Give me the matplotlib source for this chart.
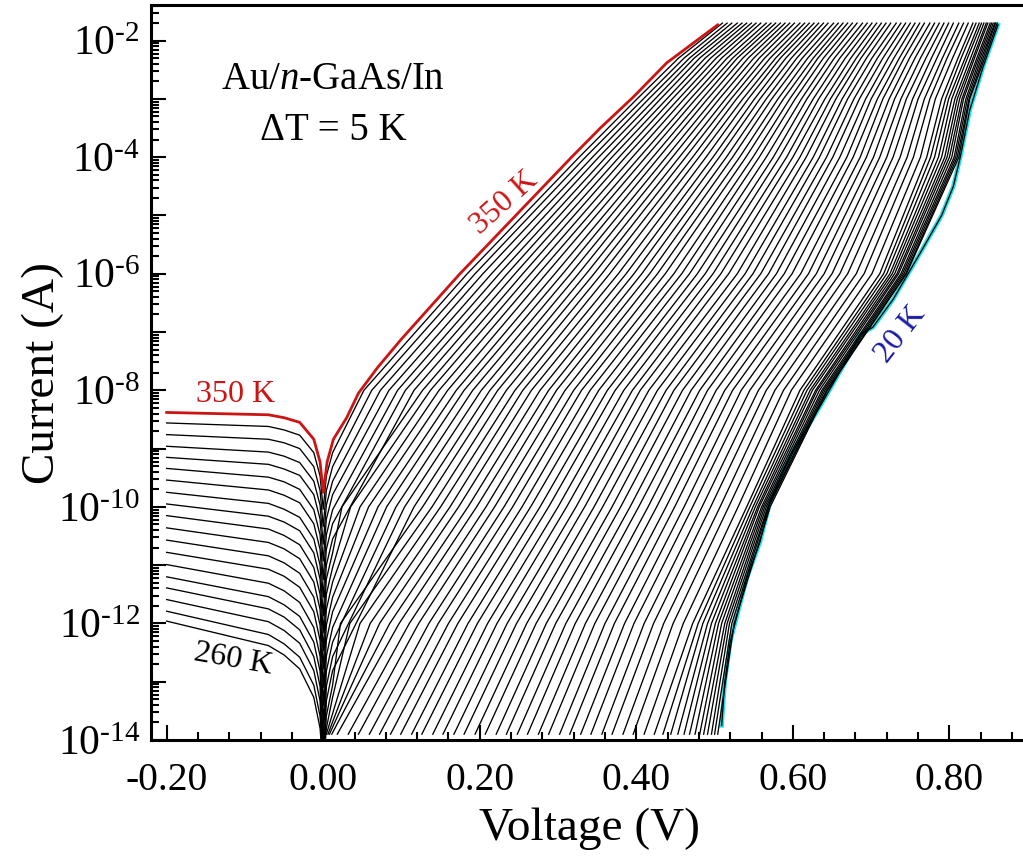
import numpy as np
import matplotlib
matplotlib.use("Agg")
import matplotlib.pyplot as plt
from matplotlib.ticker import LogLocator, FixedLocator, MultipleLocator, NullFormatter, FuncFormatter

plt.rcParams["font.family"] = ["Liberation Serif", "DejaVu Serif"]
plt.rcParams["mathtext.fontset"] = "custom"
plt.rcParams["mathtext.rm"] = "Liberation Serif"
plt.rcParams["mathtext.it"] = "Liberation Serif:italic"
plt.rcParams["axes.unicode_minus"] = False

nan = float("nan")

# temperatures of the black curves (350 K red and 20 K cyan are listed separately)
temps = list(range(345, 20, -5))

# forward branch: voltage (V) where each curve crosses log10(I) levels
levels = [-13.9, -12, -10, -8, -6, -4, -3, -2.3, -1.7]

v_start = [nan] * 18 + [
    0.004, 0.006, 0.008, 0.011, 0.018, 0.032, 0.045, 0.059, 0.072, 0.086,
    0.099, 0.113, 0.126, 0.140, 0.153, 0.167, 0.180, 0.194, 0.207, 0.221,
    0.234, 0.248, 0.261, 0.275, 0.288, 0.302, 0.315, 0.329, 0.342, 0.356,
    0.369, 0.383, 0.396, 0.410, 0.423, 0.434, 0.444, 0.453, 0.461, 0.468,
    0.475, 0.481, 0.486, 0.491, 0.496, 0.500, 0.504]
v_m12 = [nan] * 16 + [
    0.022, 0.034,
    0.047, 0.060, 0.072, 0.085, 0.097, 0.110, 0.122, 0.135, 0.147, 0.160,
    0.172, 0.185, 0.197, 0.210, 0.222, 0.235, 0.247, 0.260, 0.272, 0.285,
    0.297, 0.310, 0.322, 0.335, 0.347, 0.360, 0.372, 0.385, 0.397, 0.410,
    0.422, 0.435, 0.447, 0.460, 0.472, 0.479, 0.485, 0.491, 0.496, 0.501,
    0.505, 0.509, 0.513, 0.516, 0.519, 0.522, 0.525]
v_m10 = [nan] * 7 + [
    0.024, 0.035, 0.047, 0.058, 0.070, 0.081, 0.093, 0.104, 0.116, 0.127,
    0.139, 0.150, 0.162, 0.173, 0.185, 0.196, 0.208, 0.219, 0.231, 0.242,
    0.254, 0.265, 0.277, 0.288, 0.300, 0.311, 0.323, 0.334, 0.346, 0.357,
    0.369, 0.380, 0.392, 0.403, 0.415, 0.426, 0.438, 0.449, 0.461, 0.472,
    0.484, 0.495, 0.507, 0.518, 0.530, 0.541, 0.545, 0.549, 0.552, 0.555,
    0.557, 0.560, 0.562, 0.564, 0.566, 0.568, 0.569, 0.571]
v_m8 = [
    0.052, 0.062, 0.073, 0.084, 0.095, 0.105, 0.116, 0.127, 0.137, 0.148,
    0.159, 0.170, 0.180, 0.191, 0.202, 0.213, 0.223, 0.234, 0.245, 0.255,
    0.266, 0.277, 0.288, 0.298, 0.309, 0.320, 0.330, 0.341, 0.352, 0.363,
    0.373, 0.384, 0.395, 0.405, 0.416, 0.427, 0.438, 0.448, 0.459, 0.470,
    0.481, 0.491, 0.502, 0.513, 0.523, 0.534, 0.545, 0.556, 0.566, 0.577,
    0.588, 0.598, 0.609, 0.614, 0.618, 0.622, 0.625, 0.629, 0.631, 0.634,
    0.637, 0.639, 0.641, 0.643, 0.644]
v_m6 = [
    0.184, 0.194, 0.204, 0.215, 0.225, 0.235, 0.245, 0.255, 0.265, 0.275,
    0.285, 0.296, 0.306, 0.316, 0.326, 0.336, 0.346, 0.356, 0.366, 0.377,
    0.387, 0.397, 0.407, 0.417, 0.427, 0.437, 0.448, 0.458, 0.468, 0.478,
    0.488, 0.498, 0.508, 0.518, 0.529, 0.539, 0.549, 0.559, 0.569, 0.579,
    0.589, 0.599, 0.610, 0.620, 0.630, 0.640, 0.650, 0.660, 0.670, 0.681,
    0.691, 0.701, 0.711, 0.716, 0.720, 0.724, 0.727, 0.730, 0.733, 0.735,
    0.738, 0.740, 0.742, 0.744, 0.745]
v_m4 = [
    0.327, 0.335, 0.344, 0.352, 0.361, 0.369, 0.378, 0.386, 0.395, 0.404,
    0.412, 0.421, 0.429, 0.438, 0.446, 0.455, 0.463, 0.472, 0.480, 0.489,
    0.498, 0.506, 0.515, 0.523, 0.532, 0.540, 0.549, 0.557, 0.566, 0.575,
    0.583, 0.592, 0.600, 0.609, 0.617, 0.626, 0.634, 0.643, 0.651, 0.660,
    0.669, 0.677, 0.686, 0.694, 0.703, 0.711, 0.720, 0.728, 0.737, 0.746,
    0.754, 0.763, 0.771, 0.776, 0.781, 0.786, 0.790, 0.794, 0.797, 0.800,
    0.803, 0.806, 0.808, 0.810, 0.812]
v_m3 = [
    0.401, 0.409, 0.416, 0.424, 0.431, 0.439, 0.446, 0.454, 0.461, 0.469,
    0.476, 0.484, 0.491, 0.499, 0.506, 0.514, 0.521, 0.528, 0.536, 0.543,
    0.551, 0.558, 0.566, 0.573, 0.581, 0.588, 0.596, 0.603, 0.611, 0.618,
    0.626, 0.633, 0.641, 0.648, 0.655, 0.663, 0.670, 0.678, 0.685, 0.693,
    0.700, 0.708, 0.715, 0.723, 0.730, 0.738, 0.745, 0.753, 0.760, 0.768,
    0.775, 0.782, 0.790, 0.795, 0.799, 0.803, 0.807, 0.810, 0.813, 0.816,
    0.818, 0.821, 0.823, 0.825, 0.826]
v_m23 = [
    0.454, 0.461, 0.468, 0.474, 0.481, 0.488, 0.495, 0.502, 0.509, 0.516,
    0.523, 0.529, 0.536, 0.543, 0.550, 0.557, 0.564, 0.571, 0.578, 0.584,
    0.591, 0.598, 0.605, 0.612, 0.619, 0.626, 0.632, 0.639, 0.646, 0.653,
    0.660, 0.667, 0.674, 0.681, 0.687, 0.694, 0.701, 0.708, 0.715, 0.722,
    0.729, 0.736, 0.742, 0.749, 0.756, 0.763, 0.770, 0.777, 0.784, 0.791,
    0.797, 0.804, 0.811, 0.815, 0.820, 0.823, 0.827, 0.830, 0.832, 0.835,
    0.837, 0.839, 0.841, 0.843, 0.845]
v_top = [
    0.510, 0.516, 0.522, 0.529, 0.535, 0.541, 0.547, 0.553, 0.559, 0.566,
    0.572, 0.578, 0.584, 0.590, 0.596, 0.602, 0.609, 0.615, 0.621, 0.627,
    0.633, 0.639, 0.645, 0.652, 0.658, 0.664, 0.670, 0.676, 0.682, 0.689,
    0.695, 0.701, 0.707, 0.713, 0.719, 0.725, 0.732, 0.738, 0.744, 0.750,
    0.756, 0.762, 0.768, 0.775, 0.781, 0.787, 0.793, 0.799, 0.805, 0.812,
    0.818, 0.824, 0.830, 0.834, 0.838, 0.841, 0.844, 0.847, 0.849, 0.852,
    0.854, 0.856, 0.858, 0.859, 0.861]
fwd_lists = [v_start, v_m12, v_m10, v_m8, v_m6, v_m4, v_m3, v_m23, v_top]

# reverse branch (345 K ... 260 K): log10(I) at fixed voltages
rev_v = [-0.20, -0.07, -0.05, -0.03, -0.012, -0.004, 0.0]
rev_m020 = [-8.56, -8.76, -8.96, -9.15, -9.34, -9.54, -9.75, -9.95, -10.15,
            -10.36, -10.57, -10.78, -10.99, -11.20, -11.39, -11.59, -11.79, -11.96]
rev_m007 = [-8.62, -8.84, -9.06, -9.27, -9.49, -9.71, -9.94, -10.16, -10.38,
            -10.61, -10.84, -11.07, -11.31, -11.54, -11.75, -11.97, -12.19, -12.38]
rev_m005 = [-8.68, -8.90, -9.13, -9.35, -9.57, -9.80, -10.04, -10.26, -10.49,
            -10.72, -10.96, -11.19, -11.44, -11.68, -11.89, -12.12, -12.35, -12.54]
rev_m003 = [-8.77, -9.00, -9.24, -9.46, -9.70, -9.93, -10.18, -10.41, -10.65,
            -10.89, -11.14, -11.38, -11.64, -11.88, -12.11, -12.34, -12.58, -12.78]
rev_m0012 = [-9.07, -9.31, -9.56, -9.79, -10.05, -10.29, -10.55, -10.79, -11.04,
             -11.29, -11.55, -11.80, -12.07, -12.32, -12.57, -12.81, -13.06, -13.27]
rev_m0004 = [-9.47, -9.72, -9.97, -10.21, -10.48, -10.73, -11.00, -11.24, -11.50,
             -11.76, -12.03, -12.29, -12.56, -12.82, -13.08, -13.33, -13.59, -13.80]
rev_dip = [-10.04, -10.34, -10.64, -10.93, -11.25, -11.55, -11.87, -12.16, -12.47,
           -12.78, -13.10, -13.41, -13.73, -14.04, -14.5, -14.5, -14.5, -14.5]

# 350 K curve (red)
red_v = [-0.20, -0.07, -0.05, -0.03, -0.012, -0.004, 0.0, 0.005, 0.013, 0.030,
         0.045, 0.070, 0.100, 0.174, 0.318, 0.354, 0.396, 0.439, 0.504]
red_logi = [-8.38, -8.42, -8.47, -8.55, -8.84, -9.23, -9.75, -9.23, -8.84, -8.47,
            -8.05, -7.60, -7.12, -6.01, -3.99, -3.50, -2.97, -2.38, -1.73]

# 20 K curve (cyan)
cyan_v = [0.509, 0.513, 0.520, 0.541, 0.558, 0.571, 0.596, 0.635, 0.669, 0.686,
          0.702, 0.728, 0.765, 0.790, 0.805, 0.814, 0.826, 0.843, 0.862]
cyan_logi = [-13.75, -13.0, -12.31, -11.23, -10.60, -9.91, -9.13, -8.27, -7.47, -7.04,
             -6.92, -6.44, -5.59, -5.00, -4.50, -3.99, -3.19, -2.45, -1.73]

xticks = [-0.20, 0.00, 0.20, 0.40, 0.60, 0.80]
xticklabels = ["-0.20", "0.00", "0.20", "0.40", "0.60", "0.80"]

fig = plt.figure(figsize=(10.23, 8.56), dpi=100)
ax = fig.add_axes([0.1476, 0.1355, 0.857, 0.8586])

n_rev = len(rev_dip)
for j, T in enumerate(temps):
    vv, ll = [], []
    floor = -99
    if j < n_rev:
        vv = rev_v + [0.004, 0.012]
        ll = [rev_m020[j], rev_m007[j], rev_m005[j], rev_m003[j], rev_m0012[j],
              rev_m0004[j], rev_dip[j], rev_m0004[j], rev_m0012[j]]
        floor = rev_m0012[j]
    for L, arr in zip(levels, fwd_lists):
        v = arr[j]
        if np.isnan(v) or L <= floor:
            continue
        if j < n_rev and v <= 0.012:
            continue
        vv.append(v)
        ll.append(L)
    ax.plot(vv, 10.0 ** np.array(ll), color="black", lw=0.95, zorder=2)

ax.plot(cyan_v, 10.0 ** np.array(cyan_logi), color="#22e0e6", lw=3.2, zorder=1.9)
ax.plot(cyan_v, 10.0 ** np.array(cyan_logi), color="black", lw=0.95, zorder=2)
ax.plot(red_v, 10.0 ** np.array(red_logi), color="#cc1414", lw=2.0, zorder=3)

ax.set_yscale("log")
ax.set_xlim(-0.22, 0.90)
ax.set_ylim(1e-14, 10 ** -1.39)

ax.xaxis.set_major_locator(FixedLocator(xticks))
ax.set_xticklabels(xticklabels)
ax.xaxis.set_minor_locator(MultipleLocator(0.04))

ax.yaxis.set_major_locator(LogLocator(base=10, numticks=30))
ax.yaxis.set_minor_locator(LogLocator(base=10, subs=np.arange(2, 10), numticks=30))
ax.yaxis.set_minor_formatter(NullFormatter())


def ylab(y, pos):
    e = int(round(np.log10(y)))
    return "$10^{\u2010%d}$" % abs(e) if e % 2 == 0 else ""


ax.yaxis.set_major_formatter(FuncFormatter(ylab))

ax.tick_params(which="both", direction="in", top=False, right=False, width=1.5)
ax.tick_params(which="major", length=11)
ax.tick_params(axis="x", which="major", pad=16, labelsize=28.5)
ax.tick_params(axis="y", which="major", pad=8, labelsize=30)
ax.tick_params(which="minor", length=6)
for s in ax.spines.values():
    s.set_linewidth(2.2)

ax.set_xlabel("Voltage (V)", fontsize=34, labelpad=6)
ax.set_ylabel("Current (A)", fontsize=34, labelpad=-5)

ax.text(0.013, 10 ** -2.67, "Au/$n$-GaAs/In", fontsize=28, ha="center", va="center")
ax.text(0.013, 10 ** -3.55, "\u0394T = 5 K", fontsize=28, ha="center", va="center")
ax.text(-0.112, 10 ** -8.07, "350 K", fontsize=23, color="#cc1414", ha="center", va="center")
ax.text(0.231, 10 ** -4.78, "350 K", fontsize=23, color="#cc1414", ha="center",
        va="center", rotation=42)
ax.text(0.738, 10 ** -7.05, "20 K", fontsize=23, color="#1a1aa6", ha="center",
        va="center", rotation=52)
ax.text(-0.115, 10 ** -12.61, "260 K", fontsize=23, color="black", ha="center",
        va="center", rotation=-10)

fig.savefig("out.png", dpi=100)
